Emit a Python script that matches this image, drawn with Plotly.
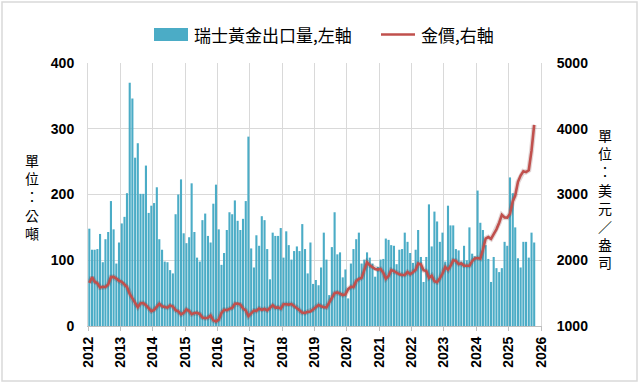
import pandas as pd
import plotly.graph_objects as go

# ---- data (monthly, Jan 2012 .. Oct 2025) ----
exports_2012 = [148, 116, 116, 117, 140, 97, 132, 143, 190, 147, 95, 127]
exports_2013 = [156, 166, 202, 370, 346, 256, 278, 201, 201, 244, 172, 183]
exports_2014 = [187, 211, 132, 116, 98, 97, 85, 80, 170, 200, 223, 141]
exports_2015 = [126, 135, 217, 143, 104, 98, 161, 171, 137, 127, 186, 215]
exports_2016 = [147, 93, 111, 146, 173, 170, 191, 160, 146, 163, 190, 288]
exports_2017 = [118, 89, 138, 122, 167, 161, 117, 71, 142, 137, 137, 149]
exports_2018 = [104, 144, 123, 101, 114, 121, 114, 155, 117, 80, 127, 64]
exports_2019 = [70, 62, 89, 142, 101, 47, 120, 173, 109, 112, 74, 86]
exports_2020 = [42, 95, 117, 132, 142, 95, 101, 112, 104, 95, 75, 90]
exports_2021 = [101, 102, 133, 131, 123, 122, 94, 116, 117, 142, 128, 111]
exports_2022 = [96, 116, 146, 105, 67, 105, 185, 121, 174, 159, 128, 142]
exports_2023 = [98, 183, 153, 153, 117, 115, 98, 122, 100, 150, 110, 106]
exports_2024 = [206, 157, 146, 123, 102, 67, 105, 88, 82, 88, 128, 122]
exports_2025 = [226, 202, 150, 103, 89, 128, 128, 104, 142, 127]

gold_2012 = [1656, 1742, 1673, 1650, 1585, 1596, 1594, 1630, 1744, 1747, 1721, 1688]
gold_2013 = [1671, 1627, 1593, 1487, 1414, 1343, 1286, 1347, 1349, 1316, 1275, 1225]
gold_2014 = [1244, 1300, 1336, 1299, 1287, 1279, 1311, 1296, 1239, 1222, 1176, 1201]
gold_2015 = [1251, 1227, 1179, 1198, 1199, 1181, 1129, 1118, 1125, 1159, 1086, 1068]
gold_2016 = [1097, 1199, 1246, 1242, 1260, 1276, 1337, 1341, 1326, 1267, 1236, 1152]
gold_2017 = [1192, 1234, 1231, 1266, 1246, 1260, 1236, 1283, 1315, 1280, 1283, 1265]
gold_2018 = [1331, 1331, 1325, 1334, 1303, 1282, 1238, 1202, 1199, 1215, 1221, 1250]
gold_2019 = [1291, 1320, 1300, 1285, 1284, 1359, 1413, 1500, 1511, 1495, 1471, 1480]
gold_2020 = [1560, 1597, 1592, 1683, 1715, 1732, 1846, 1968, 1922, 1900, 1866, 1858]
gold_2021 = [1867, 1808, 1718, 1760, 1850, 1834, 1807, 1785, 1775, 1777, 1821, 1790]
gold_2022 = [1817, 1856, 1948, 1937, 1848, 1837, 1733, 1765, 1681, 1665, 1726, 1798]
gold_2023 = [1898, 1855, 1913, 1999, 1991, 1943, 1951, 1918, 1916, 1916, 1986, 2028]
gold_2024 = [2034, 2023, 2159, 2331, 2353, 2326, 2398, 2470, 2571, 2690, 2651, 2648]
gold_2025 = [2709, 2895, 2984, 3193, 3288, 3352, 3340, 3368, 3667, 4058]

year_ticks = ["2012", "2013", "2014", "2015", "2016", "2017", "2018", "2019",
              "2020", "2021", "2022", "2023", "2024", "2025", "2026"]
series_names = ["瑞士黃金出口量,左軸", "金價,右軸"]
left_title = "單位：公噸"
right_title = "單位：美元／盎司"

exports = (exports_2012 + exports_2013 + exports_2014 + exports_2015 + exports_2016 +
           exports_2017 + exports_2018 + exports_2019 + exports_2020 + exports_2021 +
           exports_2022 + exports_2023 + exports_2024 + exports_2025)
gold = (gold_2012 + gold_2013 + gold_2014 + gold_2015 + gold_2016 + gold_2017 +
        gold_2018 + gold_2019 + gold_2020 + gold_2021 + gold_2022 + gold_2023 +
        gold_2024 + gold_2025)

months = pd.date_range("2012-01-01", periods=len(exports), freq="MS") + pd.Timedelta(days=15)

TEAL = "#4BACC6"
RED = "#C0504D"
GRID = "#D9D9D9"
TICKFONT = dict(family="Liberation Sans, Arial", size=14, color="#000000", weight="bold")
CJK = "Noto Sans CJK TC"

# plot area in pixels (for placing decorations)
PL, PR, PT, PB = 88, 541, 63, 326
def px(x):
    return (x - PL) / (PR - PL)
def py(y):
    return (PB - y) / (PB - PT)

fig = go.Figure()
fig.add_trace(go.Bar(
    x=months, y=exports, name=series_names[0],
    marker=dict(color=TEAL, line=dict(width=0)),
    yaxis="y", showlegend=False,
))
# soft shadow under the gold line
fig.add_trace(go.Scatter(
    x=months, y=gold, mode="lines", showlegend=False, hoverinfo="skip",
    line=dict(color="rgba(80,0,0,0.16)", width=5), yaxis="y2",
))
fig.add_trace(go.Scatter(
    x=months, y=gold, mode="lines", name=series_names[1],
    line=dict(color=RED, width=2.6), yaxis="y2", showlegend=False,
))

annotations = [
    dict(text=series_names[0], xref="paper", yref="paper",
         x=px(192), y=py(34.5), xanchor="left", yanchor="middle", showarrow=False,
         font=dict(family=CJK, size=17, color="#000000")),
    dict(text=series_names[1], xref="paper", yref="paper",
         x=px(419), y=py(34.5), xanchor="left", yanchor="middle", showarrow=False,
         font=dict(family=CJK, size=17, color="#000000")),
    # vertical (stacked) axis titles
    dict(text="<br>".join(left_title), xref="paper", yref="paper",
         x=px(32), y=py(196), xanchor="center", yanchor="middle", showarrow=False,
         font=dict(family=CJK, size=14, color="#000000")),
    dict(text="<br>".join(right_title), xref="paper", yref="paper",
         x=px(605), y=py(198), xanchor="center", yanchor="middle", showarrow=False,
         font=dict(family=CJK, size=14, color="#000000")),
]

fig.update_layout(
    width=640, height=384,
    margin=dict(l=PL, r=640 - PR, t=PT, b=384 - PB, autoexpand=False),
    paper_bgcolor="white", plot_bgcolor="white",
    bargap=0.15,
    font=dict(family="Noto Sans CJK TC, Liberation Sans", color="#000000"),
    showlegend=False,
    xaxis=dict(
        type="date", range=["2012-01-01", "2026-01-01"],
        tickvals=[pd.Timestamp(y + "-01-01") for y in year_ticks],
        ticktext=year_ticks, tickangle=-90,
        tickfont=TICKFONT, automargin=False,
        showgrid=True, gridcolor=GRID, gridwidth=1,
        showline=True, linecolor="#BFBFBF", linewidth=1,
        ticks="outside", ticklen=4, tickcolor="#BFBFBF",
        zeroline=False,
    ),
    yaxis=dict(
        range=[0, 400], dtick=100, tickfont=TICKFONT, automargin=False,
        showgrid=True, gridcolor=GRID, gridwidth=1,
        showline=True, linecolor="#D9D9D9", zeroline=False,
        ticks="", ticklabelstandoff=10,
    ),
    yaxis2=dict(
        range=[1000, 5000], dtick=1000, tickfont=TICKFONT, automargin=False,
        overlaying="y", side="right", showgrid=False,
        showline=True, linecolor="#D9D9D9", zeroline=False,
        ticklabelstandoff=12,
    ),
    shapes=[
        dict(type="rect", xref="paper", yref="paper",
             x0=px(2), x1=px(637), y0=py(381), y1=py(2),
             line=dict(color="#D9D9D9", width=1.5), layer="below"),
        # legend swatches
        dict(type="rect", xref="paper", yref="paper",
             x0=px(154), x1=px(188), y0=py(41), y1=py(28),
             fillcolor=TEAL, line=dict(width=0)),
        dict(type="line", xref="paper", yref="paper",
             x0=px(381), x1=px(415), y0=py(34.5), y1=py(34.5),
             line=dict(color=RED, width=2.6)),
    ],
    annotations=annotations,
)

fig.write_html("out.html", post_script="document.body.style.margin='0';",
               config={"displayModeBar": False})
